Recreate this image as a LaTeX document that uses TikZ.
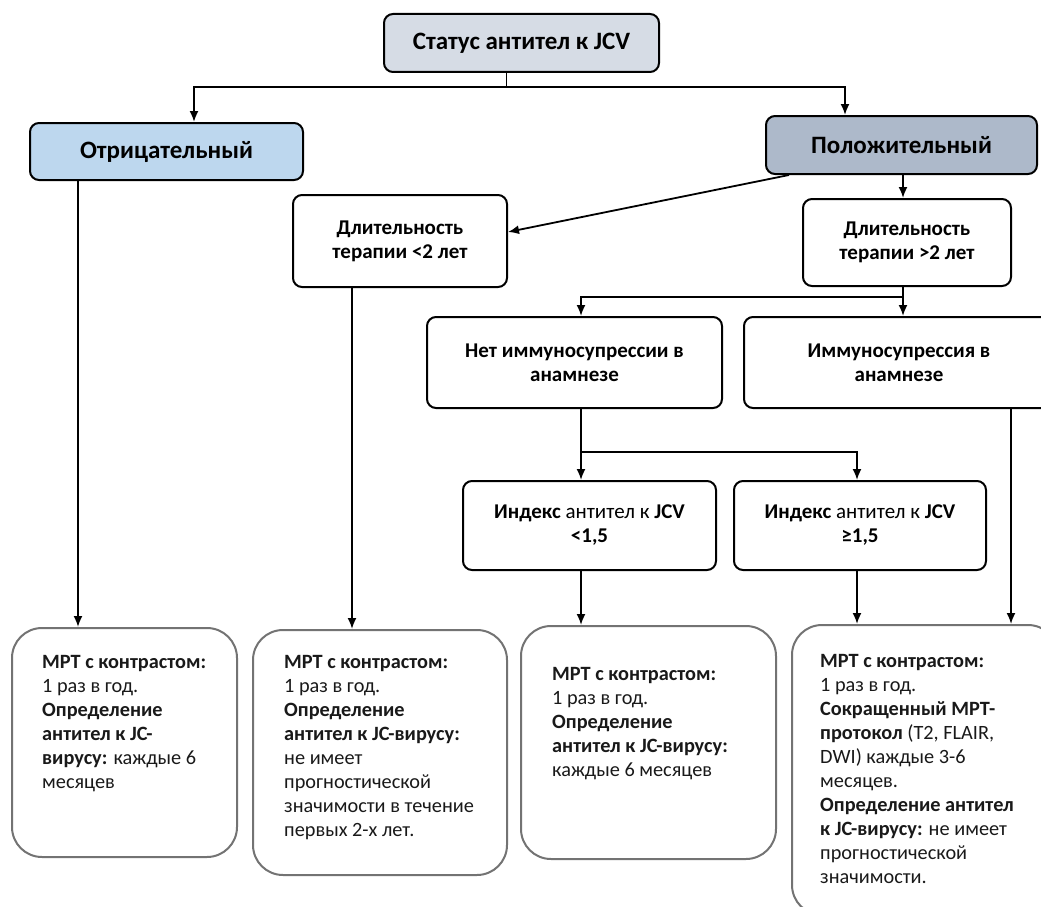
\documentclass[tikz,border=0pt]{standalone}
\usepackage{fontspec}
\setmainfont{Carlito}
\usetikzlibrary{arrows.meta}
\definecolor{topc}{HTML}{D6DCE5}
\definecolor{negc}{HTML}{BDD7EE}
\definecolor{posc}{HTML}{ADB9CA}

\begin{document}
\begin{tikzpicture}[x=1pt,y=-1pt]
\tikzstyle{box}=[draw,line width=2pt,rounded corners=9pt,align=center,inner sep=0pt,font=\bfseries\fontsize{21}{24}\selectfont]
\tikzstyle{bigbox}=[box,font=\bfseries\fontsize{25}{28}\selectfont]
\tikzstyle{outbox}=[draw=black!55,line width=2pt,rounded corners=30pt,inner sep=0pt]
\tikzstyle{outtext}=[anchor=north west,align=left,inner sep=0pt,text=black!90,font=\fontsize{20.3}{24}\selectfont]
\tikzstyle{arr}=[line width=1.8pt,-{Latex[length=11pt,width=9pt]}]
\useasboundingbox (0,0) rectangle (1041,907);
\clip (0,0) rectangle (1041,907);
% top levels
\node[bigbox,fill=topc,minimum width=275pt,minimum height=58pt] (status) at (521.5,43) {Статус антител к JCV};
\node[bigbox,fill=negc,minimum width=273pt,minimum height=57pt] (neg) at (166.5,151.5) {Отрицательный};
\node[bigbox,fill=posc,minimum width=271pt,minimum height=58pt] (pos) at (901.5,145) {Положительный};
\node[box,minimum width=214pt,minimum height=92pt] (dur1) at (400,241) {Длительность\\терапии <2 лет};
\node[box,minimum width=208pt,minimum height=87pt] (dur2) at (907,242.5) {Длительность\\терапии >2 лет};
\node[box,minimum width=295pt,minimum height=91pt] (noimm) at (574.5,362.5) {Нет иммуносупрессии в\\анамнезе};
\node[box,minimum width=310pt,minimum height=91pt] (imm) at (899,362.5) {Иммуносупрессия в\\анамнезе};
\node[box,minimum width=253pt,minimum height=89pt] (idx1) at (589.5,525.5) {Индекс \mdseries антител к \bfseries JCV\\<1,5};
\node[box,minimum width=252pt,minimum height=89pt] (idx2) at (860,525.5) {Индекс \mdseries антител к \bfseries JCV\\≥1,5};
% outcomes
\node[outbox,minimum width=225pt,minimum height=229pt] (out1) at (124.5,742.5) {};
\node[outbox,minimum width=254pt,minimum height=245pt] (out2) at (380,752.5) {};
\node[outbox,minimum width=255pt,minimum height=233pt] (out3) at (648.5,742.5) {};
\node[outbox,minimum width=266pt,minimum height=290pt] (out4) at (925,770) {};
\node[outtext] (txt1) at (42,655) {\textbf{МРТ с контрастом:}\\1 раз в год.\\\textbf{Определение}\\\textbf{антител к JC-}\\\textbf{вирусу:} каждые 6\\месяцев};
\node[outtext] (txt2) at (284,655) {\textbf{МРТ с контрастом:}\\1 раз в год.\\\textbf{Определение}\\\textbf{антител к JC-вирусу:}\\не имеет\\прогностической\\значимости в течение\\первых 2-х лет.};
\node[outtext] (txt3) at (552,667) {\textbf{МРТ с контрастом:}\\1 раз в год.\\\textbf{Определение}\\\textbf{антител к JC-вирусу:}\\каждые 6 месяцев};
\node[outtext] (txt4) at (820,654) {\textbf{МРТ с контрастом:}\\1 раз в год.\\\textbf{Сокращенный МРТ-}\\\textbf{протокол} (T2, FLAIR,\\DWI) каждые 3-6\\месяцев.\\\textbf{Определение антител}\\\textbf{к JC-вирусу:} не имеет\\прогностической\\значимости.};
% connectors
\draw[arr] ([xshift=-15pt]status.south) |- ++(0,14) -| ([xshift=27.5pt]neg.north);
\draw[arr] ([xshift=-15pt]status.south) |- ++(0,14) -| ([xshift=-56.5pt]pos.north);
\draw[arr] ([xshift=24pt]pos.south west) -- ([yshift=9pt]dur1.east);
\draw[arr] ([xshift=1.5pt]pos.south) -- ([xshift=1.5pt]pos.south |- dur2.north);
\draw[arr] ([xshift=-4pt]dur2.south) |- ++(0,10) -| ([xshift=6.5pt]noimm.north);
\draw[arr] ([xshift=-4pt]dur2.south) -- ([xshift=-4pt]dur2.south |- imm.north);
\draw[arr] ([xshift=6.5pt]noimm.south) |- ++(0,43) -| ([xshift=-8.5pt]idx1.north);
\draw[arr] ([xshift=6.5pt]noimm.south) |- ++(0,43) -| ([xshift=-3pt]idx2.north);
\draw[arr] ([xshift=-88.5pt]neg.south) -- ([xshift=-88.5pt]neg.south |- out1.north);
\draw[arr] ([xshift=-48pt]dur1.south) -- ([xshift=-48pt]dur1.south |- out2.north);
\draw[arr] ([xshift=-8.5pt]idx1.south) -- ([xshift=-8.5pt]idx1.south |- out3.north);
\draw[arr] ([xshift=-3pt]idx2.south) -- ([xshift=-3pt]idx2.south |- out4.north);
\draw[arr] ([xshift=112pt]imm.south) -- ([xshift=112pt]imm.south |- out4.north);
\end{tikzpicture}
\end{document}
